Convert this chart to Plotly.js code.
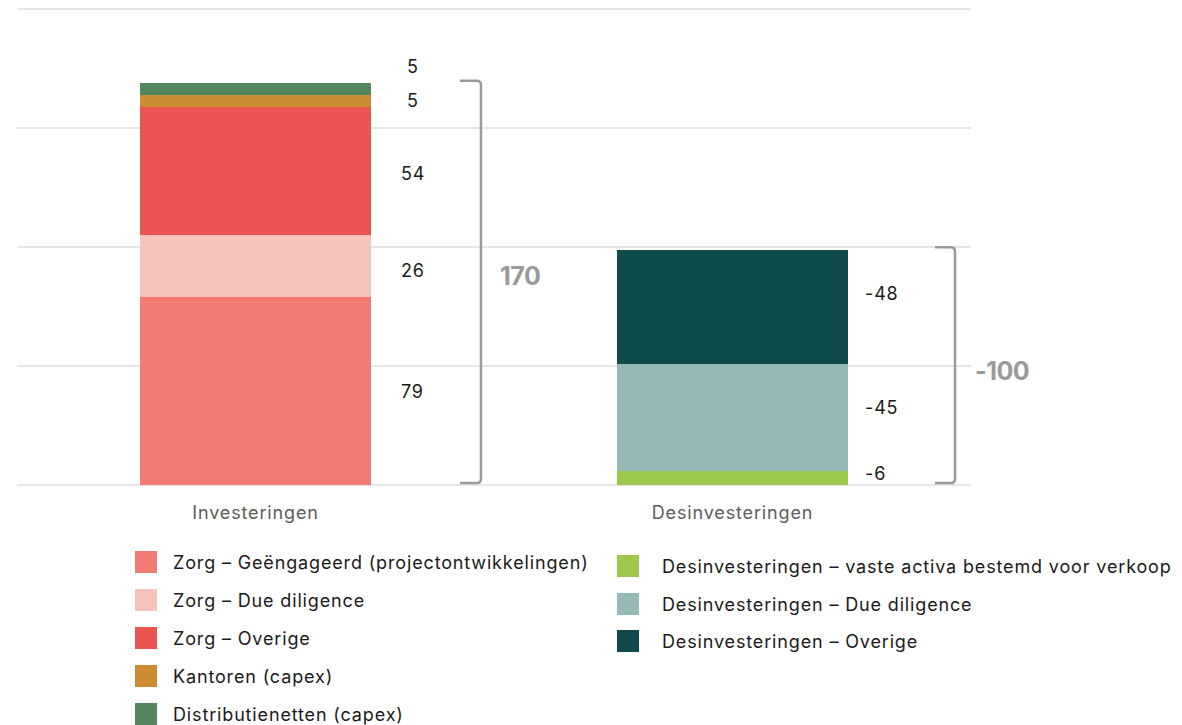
<!DOCTYPE html>
<html>
<head>
<meta charset="utf-8">
<script src="https://cdn.plot.ly/plotly-3.0.1.min.js"></script>
<style>
  html, body { margin: 0; padding: 0; background: #ffffff; }
  #chart { width: 1182px; height: 725px; }
  text { letter-spacing: 0.85px; }
</style>
</head>
<body>
<div id="chart"></div>
<script>
// Categories on the x axis
const categories = ['Investeringen', 'Desinvesteringen'];

// Investeringen (stacked bottom to top)
const investNames = [
  'Zorg – Geëngageerd (projectontwikkelingen)',
  'Zorg – Due diligence',
  'Zorg – Overige',
  'Kantoren (capex)',
  'Distributienetten (capex)'
];
const investValues = [79, 26, 54, 5, 5];
const investColors = ['#F27B74', '#F5C3BC', '#EB5551', '#CB8C33', '#54865E'];

// Desinvesteringen (stacked bottom to top)
const divestNames = [
  'Desinvesteringen – vaste activa bestemd voor verkoop',
  'Desinvesteringen – Due diligence',
  'Desinvesteringen – Overige'
];
const divestValues = [-6, -45, -48];
const divestColors = ['#9DC84B', '#97B9B6', '#0F4B4A'];

// Totals shown next to the brackets
const totals = [170, -100];

const FONT = 'Inter, Open Sans, sans-serif';
const W = 1182, H = 725;
const M = { l: 17, r: 211, t: 7, b: 240 };
const plotW = W - M.l - M.r, plotH = H - M.t - M.b;
const px2paperX = p => (p - M.l) / plotW;
const px2paperY = p => (H - M.b - p) / plotH;
const idx2paperX = c => (c + 0.5) / categories.length;

const groups = [
  { cat: 0, names: investNames, values: investValues, colors: investColors,
    labelX: 0.33, labelAnchor: 'center', labelShift: [0, -4, -2, 0, 23] },
  { cat: 1, names: divestNames, values: divestValues, colors: divestColors,
    labelX: 1.2735, labelAnchor: 'left', labelShift: [4, 10, 13] }
];

const traces = [];
const annotations = [];
const shapes = [];

groups.forEach(g => {
  let base = 0;
  g.values.forEach((v, i) => {
    const h = Math.abs(v);
    traces.push({
      type: 'bar',
      name: g.names[i],
      x: [categories[g.cat]],
      y: [h],
      marker: { color: g.colors[i], line: { width: 0 } },
      showlegend: false,
      hoverinfo: 'name+y'
    });
    annotations.push({
      xref: 'x', yref: 'y',
      x: g.labelX, y: base + h / 2,
      yshift: g.labelShift[i],
      text: String(v),
      showarrow: false,
      xanchor: g.labelAnchor, yanchor: 'middle',
      font: { family: FONT, size: 18, color: '#1a1a1a' }
    });
    base += h;
  });
});

// Brackets spanning each total, with the total beside them
const bracketX = [[0.4287, 0.4727], [1.4245, 1.4665]];
const totalLabelX = [0.5545, 1.565];
const totalShift = [7, -5];
totals.forEach((t, k) => {
  const top = Math.abs(t), bot = 0.8;
  const [x0, x1] = bracketX[k];
  const rx = 0.009, ry = 1.8;
  shapes.push({
    type: 'path', xref: 'x', yref: 'y',
    path: `M${x0},${top} L${x1 - rx},${top} Q${x1},${top} ${x1},${top - ry} ` +
          `L${x1},${bot + ry} Q${x1},${bot} ${x1 - rx},${bot} L${x0},${bot}`,
    line: { color: '#9a9a9a', width: 2.5 }
  });
  annotations.push({
    xref: 'paper', yref: 'y',
    x: idx2paperX(totalLabelX[k]), y: top / 2, yshift: totalShift[k],
    text: `<span style="letter-spacing:-0.5px">${t}</span>`,
    showarrow: false, xanchor: 'center', yanchor: 'middle',
    font: { family: FONT, size: 25, color: '#9a9a9a', weight: 700 }
  });
});

// Legend in two columns: swatch + name
const legendCols = [
  { names: investNames, colors: investColors, swatchX: 135, textX: 171, rowY: [562, 600, 638, 676, 714] },
  { names: divestNames, colors: divestColors, swatchX: 617, textX: 660, rowY: [566, 604, 641] }
];
legendCols.forEach(col => {
  col.names.forEach((n, i) => {
    const y = col.rowY[i];
    shapes.push({
      type: 'rect', xref: 'paper', yref: 'paper',
      x0: px2paperX(col.swatchX), x1: px2paperX(col.swatchX + 22),
      y0: px2paperY(y + 11), y1: px2paperY(y - 11),
      fillcolor: col.colors[i], line: { width: 0 }
    });
    annotations.push({
      xref: 'paper', yref: 'paper',
      x: px2paperX(col.textX), y: px2paperY(y),
      text: n, showarrow: false,
      xanchor: 'left', yanchor: 'middle',
      font: { family: FONT, size: 18, color: '#1a1a1a' }
    });
  });
});

const layout = {
  width: W, height: H,
  margin: M,
  paper_bgcolor: '#ffffff',
  plot_bgcolor: '#ffffff',
  barmode: 'stack',
  bargap: 0.516,
  showlegend: false,
  font: { family: FONT },
  xaxis: {
    type: 'category',
    categoryorder: 'array', categoryarray: categories,
    range: [-0.5, 1.5],
    showgrid: false, zeroline: false, showline: false,
    ticks: '',
    ticklabelstandoff: 15,
    tickfont: { family: FONT, size: 18, color: '#5c5c5c' },
    fixedrange: true
  },
  yaxis: {
    range: [0, 201],
    dtick: 50, tick0: 0,
    showticklabels: false,
    ticks: '',
    showgrid: true, gridcolor: '#e6e6e6', gridwidth: 2,
    zeroline: true, zerolinecolor: '#e6e6e6', zerolinewidth: 2,
    showline: false,
    fixedrange: true
  },
  shapes: shapes,
  annotations: annotations
};

Plotly.newPlot('chart', traces, layout, { displayModeBar: false, staticPlot: true });
</script>
</body>
</html>
